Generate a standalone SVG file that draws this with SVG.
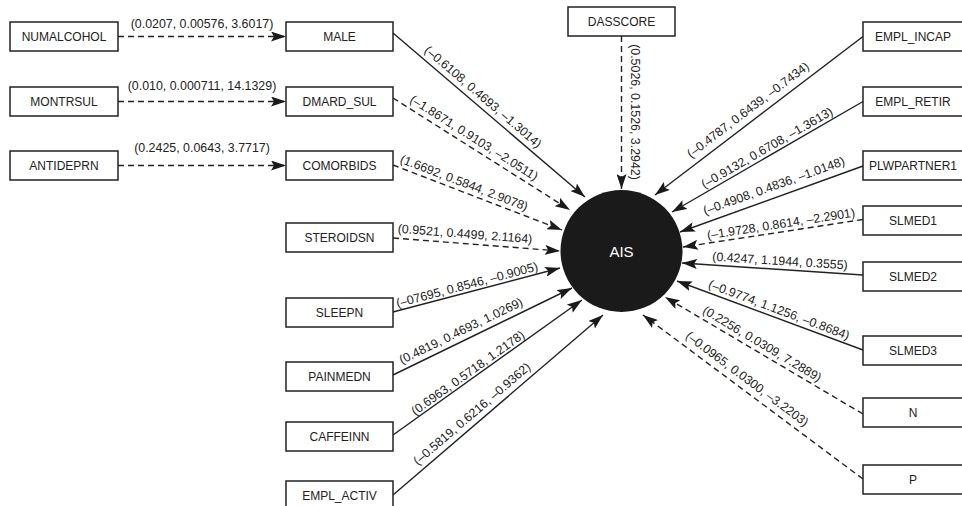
<svg xmlns="http://www.w3.org/2000/svg" width="962" height="506" viewBox="0 0 962 506">
<style>
.box{fill:#fff;stroke:#222;stroke-width:1.5}
.bt{font-family:"Liberation Sans",Arial,sans-serif;font-size:12px;fill:#222;text-anchor:middle;dominant-baseline:central}
.el{font-family:"Liberation Sans",Arial,sans-serif;font-size:12.4px;fill:#222;text-anchor:middle;dominant-baseline:central}
.s{stroke:#222;stroke-width:1.4;fill:none;marker-end:url(#ah)}
.d{stroke:#222;stroke-width:1.4;fill:none;stroke-dasharray:6 4;marker-end:url(#ah)}
</style>
<defs>
<marker id="ah" viewBox="0 0 15 10" refX="15" refY="5" markerWidth="15" markerHeight="10" markerUnits="userSpaceOnUse" orient="auto">
<path d="M0,0 L15,5 L0,10 L3,5 z" fill="#1a1a1a"/>
</marker>
</defs>
<rect width="962" height="506" fill="#fff"/>

<g id="connectors">
<line class="d" x1="118" y1="36.5" x2="286" y2="36.5"/>
<line class="d" x1="118" y1="101.5" x2="286" y2="101.5"/>
<line class="d" x1="118" y1="165.5" x2="286" y2="165.5"/>
<line class="s" x1="393" y1="33" x2="585" y2="197"/>
<line class="d" x1="393" y1="98" x2="570" y2="210"/>
<line class="d" x1="393" y1="165" x2="562" y2="230"/>
<line class="d" x1="393" y1="238" x2="560" y2="251"/>
<line class="s" x1="393" y1="312" x2="560" y2="268"/>
<line class="s" x1="393" y1="375" x2="572" y2="288"/>
<line class="s" x1="393" y1="435" x2="582" y2="300"/>
<line class="s" x1="393" y1="495" x2="603" y2="315"/>
<line class="d" x1="621.5" y1="36" x2="621.5" y2="189"/>
<line class="s" x1="863" y1="36.5" x2="655" y2="195"/>
<line class="s" x1="863" y1="101.5" x2="672" y2="212"/>
<line class="s" x1="863" y1="166" x2="680" y2="232"/>
<line class="d" x1="863" y1="219.5" x2="683" y2="247"/>
<line class="s" x1="863" y1="275" x2="682" y2="263"/>
<line class="s" x1="863" y1="350" x2="677" y2="281"/>
<line class="d" x1="863" y1="414" x2="665" y2="297"/>
<line class="d" x1="863" y1="479" x2="643" y2="315"/>

<text class="el" x="202" y="24">(0.0207, 0.00576, 3.6017)</text>
<text class="el" x="202" y="86">(0.010, 0.000711, 14.1329)</text>
<text class="el" x="202" y="148">(0.2425, 0.0643, 3.7717)</text>
<text class="el" x="483" y="97" transform="rotate(40.5 483 97)">(–0.6108, 0.4693, –1.3014)</text>
<text class="el" x="474" y="138" transform="rotate(32.3 474 138)">(–1.8671, 0.9103, –2.0511)</text>
<text class="el" x="464" y="183" transform="rotate(21 464 183)">(1.6692, 0.5844, 2.9078)</text>
<text class="el" x="465" y="234" transform="rotate(4.5 465 234)">(0.9521, 0.4499, 2.1164)</text>
<text class="el" x="467" y="285" transform="rotate(-14.8 467 285)">(–07695, 0.8546, –0.9005)</text>
<text class="el" x="461" y="331" transform="rotate(-25.9 461 331)">(0.4819, 0.4693, 1.0269)</text>
<text class="el" x="468" y="373" transform="rotate(-35.5 468 373)">(0.6963, 0.5718, 1.2178)</text>
<text class="el" x="472" y="414" transform="rotate(-40.6 472 414)">(–0.5819, 0.6216, –0.9362)</text>
<text class="el" x="635" y="112" transform="rotate(90 635 112)">(0.5026, 0.1526, 3.2942)</text>
<text class="el" x="748" y="110" transform="rotate(-37.2 748 110)">(–0.4787, 0.6439, –0.7434)</text>
<text class="el" x="767" y="148" transform="rotate(-30 767 148)">(–0.9132, 0.6708, –1.3613)</text>
<text class="el" x="774" y="186" transform="rotate(-19.8 774 186)">(–0.4908, 0.4836, –1.0148)</text>
<text class="el" x="781" y="224" transform="rotate(-8.8 781 224)">(–1.9728, 0.8614, –2.2901)</text>
<text class="el" x="780" y="261" transform="rotate(3.7 780 261)">(0.4247, 1.1944, 0.3555)</text>
<text class="el" x="779" y="310" transform="rotate(20.5 779 310)">(–0.9774, 1.1256, –0.8684)</text>
<text class="el" x="762" y="344" transform="rotate(30.8 762 344)">(0.2256, 0.0309, 7.2889)</text>
<text class="el" x="747" y="379" transform="rotate(36.7 747 379)">(–0.0965, 0.0300, –3.2203)</text>
</g>

<g id="AIS"><circle cx="621.5" cy="251" r="61" fill="#1a1a1a"/><text class="bt" x="621.5" y="251" style="fill:#fff;font-size:15px">AIS</text></g>

<g id="NUMALCOHOL"><rect class="box" x="10" y="22" width="108" height="29"/><text class="bt" x="64" y="36.5">NUMALCOHOL</text></g>
<g id="MONTRSUL"><rect class="box" x="10" y="87" width="108" height="29"/><text class="bt" x="64" y="101.5">MONTRSUL</text></g>
<g id="ANTIDEPRN"><rect class="box" x="10" y="151" width="108" height="29"/><text class="bt" x="64" y="165.5">ANTIDEPRN</text></g>

<g id="MALE"><rect class="box" x="286" y="22" width="107" height="29"/><text class="bt" x="339.5" y="36.5">MALE</text></g>
<g id="DMARD_SUL"><rect class="box" x="286" y="87" width="107" height="29"/><text class="bt" x="339.5" y="101.5">DMARD_SUL</text></g>
<g id="COMORBIDS"><rect class="box" x="286" y="151" width="107" height="29"/><text class="bt" x="339.5" y="165.5">COMORBIDS</text></g>
<g id="STEROIDSN"><rect class="box" x="286" y="223" width="107" height="29"/><text class="bt" x="339.5" y="237.5">STEROIDSN</text></g>
<g id="SLEEPN"><rect class="box" x="286" y="298" width="107" height="29"/><text class="bt" x="339.5" y="312.5">SLEEPN</text></g>
<g id="PAINMEDN"><rect class="box" x="286" y="362" width="107" height="29"/><text class="bt" x="339.5" y="376.5">PAINMEDN</text></g>
<g id="CAFFEINN"><rect class="box" x="286" y="422" width="107" height="29"/><text class="bt" x="339.5" y="436.5">CAFFEINN</text></g>
<g id="EMPL_ACTIV"><rect class="box" x="286" y="481" width="107" height="29"/><text class="bt" x="339.5" y="495.5">EMPL_ACTIV</text></g>

<g id="DASSCORE"><rect class="box" x="568" y="7" width="107" height="29"/><text class="bt" x="621.5" y="21.5">DASSCORE</text></g>

<g id="EMPL_INCAP"><rect class="box" x="863" y="22" width="108" height="29"/><text class="bt" x="913" y="36.5">EMPL_INCAP</text></g>
<g id="EMPL_RETIR"><rect class="box" x="863" y="87" width="108" height="29"/><text class="bt" x="913" y="101.5">EMPL_RETIR</text></g>
<g id="PLWPARTNER1"><rect class="box" x="863" y="151" width="108" height="29"/><text class="bt" x="913" y="165.5">PLWPARTNER1</text></g>
<g id="SLMED1"><rect class="box" x="863" y="206" width="108" height="29"/><text class="bt" x="913" y="220.5">SLMED1</text></g>
<g id="SLMED2"><rect class="box" x="863" y="262" width="108" height="29"/><text class="bt" x="913" y="276.5">SLMED2</text></g>
<g id="SLMED3"><rect class="box" x="863" y="336" width="108" height="29"/><text class="bt" x="913" y="350.5">SLMED3</text></g>
<g id="N"><rect class="box" x="863" y="398" width="108" height="29"/><text class="bt" x="913" y="412.5">N</text></g>
<g id="P"><rect class="box" x="863" y="465" width="108" height="29"/><text class="bt" x="913" y="479.5">P</text></g>
</svg>
